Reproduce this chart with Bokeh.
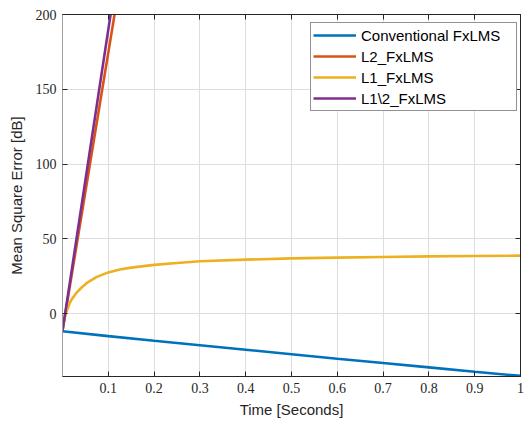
from bokeh.plotting import figure
from bokeh.models import Range1d, FixedTicker, LinearAxis, Legend, LegendItem
from bokeh.embed import file_html
from bokeh.resources import INLINE

# ---- data ----
t_conv = [0.0, 0.1, 0.2, 0.3, 0.4, 0.5, 0.6, 0.7, 0.8, 0.9, 1.0]
mse_conv = [-11.8, -15.0, -18.1, -21.1, -24.1, -27.1, -30.1, -33.0, -35.9, -38.8, -41.6]

t_l2 = [0.0, 0.05, 0.1, 0.15]
mse_l2 = [-11.5, 81.5, 174.5, 267.5]

t_l1 = [0.0, 0.003, 0.006, 0.01, 0.015, 0.02, 0.03, 0.04, 0.055, 0.075, 0.1, 0.125, 0.15, 0.2,
        0.25, 0.3, 0.4, 0.5, 0.6, 0.7, 0.8, 0.9, 1.0]
mse_l1 = [-11.0, -5.0, -1.0, 2.5, 6.5, 9.5, 13.8, 17.0, 21.0, 24.6, 27.6, 29.5, 30.8, 32.6,
          33.9, 35.0, 36.1, 37.0, 37.5, 37.9, 38.3, 38.6, 38.8]

t_l12 = [0.0, 0.05, 0.1, 0.15]
mse_l12 = [-11.5, 89.2, 189.9, 290.6]

x_ticks = [0.1, 0.2, 0.3, 0.4, 0.5, 0.6, 0.7, 0.8, 0.9, 1.0]
y_ticks = [0, 50, 100, 150, 200]

series_names = ["Conventional FxLMS", "L2_FxLMS", "L1_FxLMS", "L1\\2_FxLMS"]
colors = ["#0072BD", "#D95319", "#EDB120", "#7E2F8E"]

AX = "#262626"
TICK_FONT = "Liberation Serif"
LAB_FONT = "Liberation Sans"

p = figure(width=524, height=421, output_backend="svg", toolbar_location=None,
           x_range=Range1d(0, 1), y_range=Range1d(-42, 200),
           min_border_left=62, min_border_right=4, min_border_top=14, min_border_bottom=45,
           x_axis_label="Time [Seconds]", y_axis_label="Mean Square Error [dB]")
p.outline_line_color = AX
p.outline_line_width = 1
p.background_fill_color = "white"
p.border_fill_color = "white"

p.xaxis.ticker = FixedTicker(ticks=x_ticks)
p.yaxis.ticker = FixedTicker(ticks=y_ticks)
p.axis.major_tick_in = 5
p.axis.major_tick_out = 0
p.axis.minor_tick_line_color = None
p.axis.axis_line_color = AX
p.axis.major_tick_line_color = AX
p.axis.major_label_text_font = TICK_FONT
p.axis.major_label_text_font_size = "14px"
p.axis.major_label_text_color = AX
p.axis.axis_label_text_font = LAB_FONT
p.axis.axis_label_text_font_size = "15px"
p.axis.axis_label_text_font_style = "normal"
p.axis.axis_label_text_color = AX

p.xaxis.major_label_overrides = {1: "1"}
p.xaxis.major_label_standoff = 6
p.xaxis.axis_label_standoff = 5
p.yaxis.major_label_standoff = 6
p.yaxis.axis_label_standoff = 8
p.yaxis.axis_line_color = "#a0a0a0"

top = LinearAxis(ticker=FixedTicker(ticks=x_ticks), major_tick_in=5, major_tick_out=0,
                 minor_tick_line_color=None, axis_line_color=AX, major_tick_line_color=AX,
                 major_label_text_font_size="1px", major_label_text_color=None,
                 major_label_standoff=0)
right = LinearAxis(ticker=FixedTicker(ticks=y_ticks), major_tick_in=5, major_tick_out=0,
                   minor_tick_line_color=None, axis_line_color=AX, major_tick_line_color=AX,
                   major_label_text_font_size="1px", major_label_text_color=None,
                   major_label_standoff=0)
p.add_layout(top, "above")
p.add_layout(right, "right")

p.xgrid.ticker = FixedTicker(ticks=x_ticks)
p.ygrid.ticker = FixedTicker(ticks=y_ticks)
p.grid.grid_line_color = "#dedede"
p.grid.grid_line_width = 1

lw = 2.6
r_conv = p.line(t_conv, mse_conv, line_color=colors[0], line_width=lw)
r_l2 = p.line(t_l2, mse_l2, line_color=colors[1], line_width=lw)
r_l1 = p.line(t_l1, mse_l1, line_color=colors[2], line_width=lw)
r_l12 = p.line(t_l12, mse_l12, line_color=colors[3], line_width=lw)

legend = Legend(items=[LegendItem(label=series_names[0], renderers=[r_conv]),
                       LegendItem(label=series_names[1], renderers=[r_l2]),
                       LegendItem(label=series_names[2], renderers=[r_l1]),
                       LegendItem(label=series_names[3], renderers=[r_l12])],
                location=(248, 265))
legend.label_text_font = LAB_FONT
legend.label_text_font_size = "15px"
legend.label_text_color = "black"
legend.glyph_width = 43
legend.glyph_height = 20
legend.label_height = 20
legend.label_width = 153
legend.label_standoff = 5
legend.spacing = 1
legend.padding = 2
legend.margin = 0
legend.border_line_color = AX
legend.border_line_width = 1
legend.background_fill_color = "white"
legend.background_fill_alpha = 1.0
p.add_layout(legend, "center")

open("out.html", "w").write(file_html(p, INLINE))
